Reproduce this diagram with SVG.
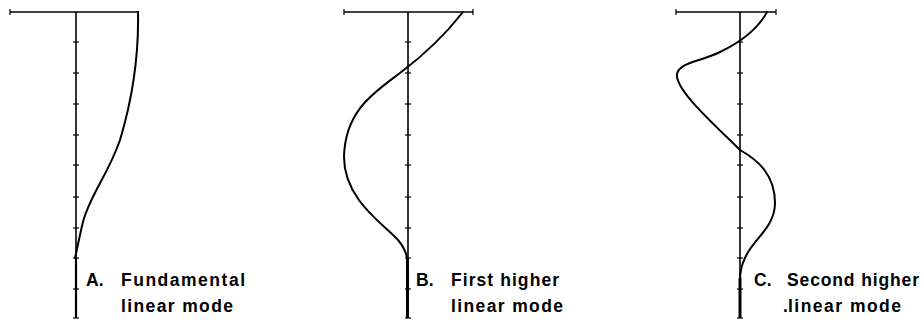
<svg xmlns="http://www.w3.org/2000/svg" width="924" height="320" viewBox="0 0 924 320">
<style>
.ax{stroke:#000;stroke-width:1.6;fill:none}
.tk{stroke:#000;stroke-width:1.2}
.cv{stroke:#000;stroke-width:2;fill:none;stroke-linecap:round}
.thick{stroke:#000;stroke-width:3}
text{font-family:"Liberation Sans",Arial,sans-serif;font-size:17.5px;font-weight:bold;fill:#000}
</style>
<defs>
<g id="ticks">
<line class="tk" x1="-3" y1="42" x2="3" y2="42"/>
<line class="tk" x1="-3" y1="73" x2="3" y2="73"/>
<line class="tk" x1="-3" y1="104" x2="3" y2="104"/>
<line class="tk" x1="-3" y1="135" x2="3" y2="135"/>
<line class="tk" x1="-3" y1="165" x2="3" y2="165"/>
<line class="tk" x1="-3" y1="197" x2="3" y2="197"/>
<line class="tk" x1="-3" y1="228" x2="3" y2="228"/>
<line class="tk" x1="-3" y1="258" x2="3" y2="258"/>
<line class="tk" x1="-3" y1="289" x2="3" y2="289"/>
<line class="tk" x1="-3" y1="318" x2="3" y2="318"/>
</g>
</defs>
<g id="panelA">
<line class="ax" x1="10" y1="12" x2="139" y2="12"/>
<line class="tk" x1="10" y1="9" x2="10" y2="15"/>
<line class="ax" x1="76" y1="12" x2="76" y2="318"/>
<line class="thick" x1="76" y1="258" x2="76" y2="318" style="stroke-width:2.2"/>
<use href="#ticks" x="76"/>
<path class="cv" d="M138,12 C139,60 132,100 120,140 C108,175 90,195 83,222 C79,238 77,250 75,258"/>
<text x="86" y="286">A.</text>
<text x="121" y="286" textLength="124" lengthAdjust="spacing">Fundamental</text>
<text x="121" y="312" textLength="112" lengthAdjust="spacing">linear mode</text>
</g>
<g id="panelB">
<line class="ax" x1="344" y1="12" x2="473" y2="12"/>
<line class="tk" x1="344" y1="9" x2="344" y2="15"/>
<line class="tk" x1="473" y1="9" x2="473" y2="15"/>
<line class="ax" x1="408" y1="12" x2="408" y2="318"/>
<line class="thick" x1="407.5" y1="258" x2="407.5" y2="318"/>
<use href="#ticks" x="408"/>
<path class="cv" d="M463,12 C445,35 420,58 400,73 C375,92 345,110 344,157 C344,200 385,225 398,240 C404,247 406,252 407,258"/>
<text x="416" y="286">B.</text>
<text x="451" y="286" textLength="108" lengthAdjust="spacing">First higher</text>
<text x="451" y="312" textLength="112" lengthAdjust="spacing">linear mode</text>
</g>
<g id="panelC">
<line class="ax" x1="676" y1="12" x2="776" y2="12"/>
<line class="tk" x1="676" y1="9" x2="676" y2="15"/>
<line class="tk" x1="776" y1="9" x2="776" y2="15"/>
<line class="ax" x1="740" y1="12" x2="740" y2="318"/>
<line class="thick" x1="740" y1="278" x2="740" y2="318"/>
<use href="#ticks" x="740"/>
<path class="cv" d="M767,12 C760,25 745,40 720,52 C700,62 680,62 677,74 C675,90 715,125 740,150 C758,160 775,175 775,203 C775,228 752,240 745,258 C741,266 740,272 740,280"/>
<text x="754" y="286">C.</text>
<text x="787" y="286" textLength="132" lengthAdjust="spacing">Second higher</text>
<text x="783" y="312">.</text>
<text x="788" y="312" textLength="113" lengthAdjust="spacing">linear mode</text>
</g>
</svg>
